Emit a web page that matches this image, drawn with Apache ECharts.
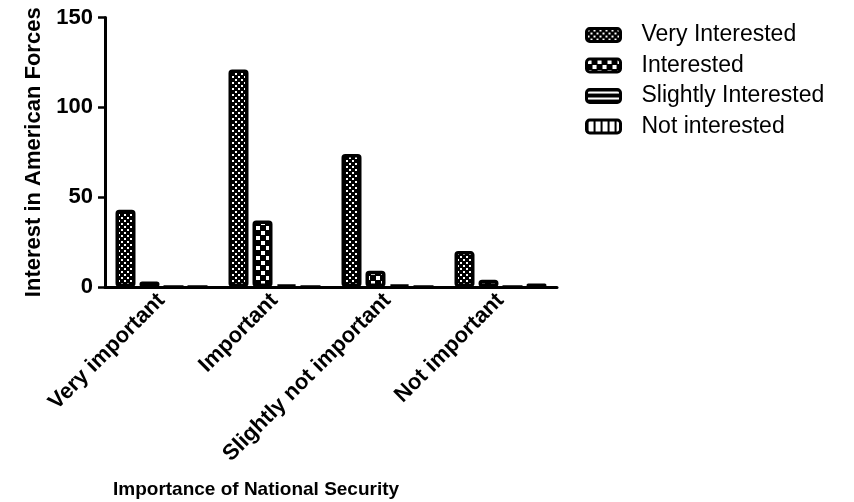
<!DOCTYPE html>
<html>
<head>
<meta charset="utf-8">
<script src="https://cdn.jsdelivr.net/npm/echarts@6/dist/echarts.min.js"></script>
<style>
  html, body { margin: 0; padding: 0; background: #fff; }
  #chart { width: 854px; height: 502px; }
</style>
</head>
<body>
<div id="chart"></div>
<script>
var categories = ['Very important', 'Important', 'Slightly not important', 'Not important'];
var seriesNames = ['Very Interested', 'Interested', 'Slightly Interested', 'Not interested'];
var veryInterested = [43, 121, 74, 20];
var interested = [3, 37, 9, 4];
var slightlyInterested = [0, 1, 1, 0];
var notInterested = [0, 0, 0, 2];
var yTicks = { min: 0, max: 150, interval: 50 };

// little canvas tiles used as hatch fills
function tile(w, h, draw) {
  var c = document.createElement('canvas');
  c.width = w; c.height = h;
  var ctx = c.getContext('2d');
  ctx.fillStyle = '#000';
  ctx.fillRect(0, 0, w, h);
  ctx.fillStyle = '#fff';
  draw(ctx);
  return { image: c, repeat: 'repeat' };
}
var fills = [
  tile(6, 6, function (ctx) { ctx.fillRect(1, 1, 2, 2); ctx.fillRect(4, 4, 2, 2); }),
  tile(10, 10, function (ctx) { ctx.fillRect(1, 1, 4, 4); ctx.fillRect(6, 6, 4, 4); }),
  tile(6, 6, function (ctx) { ctx.fillRect(0, 2, 6, 2); }),
  tile(7, 7, function (ctx) { ctx.fillRect(2, 0, 5, 7); })
];
var values = [veryInterested, interested, slightlyInterested, notInterested];

var font = "'Liberation Sans', Arial, sans-serif";
var chart = echarts.init(document.getElementById('chart'), null, { renderer: 'canvas' });

var series = seriesNames.map(function (name, i) {
  return {
    name: name,
    type: 'bar',
    data: values[i],
    barWidth: 20,
    barGap: '20%',
    itemStyle: {
      color: fills[i],
      borderColor: '#000',
      borderWidth: 3.5,
      borderRadius: 2
    },
    emphasis: { disabled: true }
  };
});

chart.setOption({
  backgroundColor: '#fff',
  animation: false,
  title: {
    text: 'Importance of National Security',
    left: 108,
    top: 475,
    textStyle: { fontFamily: font, fontSize: 19, fontWeight: 'bold', color: '#000' }
  },
  legend: {
    orient: 'vertical',
    left: 585,
    top: 21,
    padding: 0,
    icon: 'roundRect',
    itemWidth: 34,
    itemHeight: 13,
    itemGap: 2.5,
    itemStyle: { borderColor: '#000', borderWidth: 3 },
    textStyle: { fontFamily: font, fontSize: 23, color: '#000', lineHeight: 24, padding: [4, 0, 0, 16] },
    data: seriesNames
  },
  grid: { left: 105, right: 297, top: 17.5, bottom: 215, containLabel: false },
  xAxis: {
    type: 'category',
    data: categories,
    axisLine: { lineStyle: { color: '#000', width: 3 } },
    axisTick: { alignWithLabel: true, length: 7, lineStyle: { color: '#000', width: 2.5 } },
    axisLabel: {
      interval: 0,
      rotate: 45,
      margin: 10,
      fontFamily: font,
      fontSize: 22,
      fontWeight: 'bold',
      color: '#000'
    }
  },
  yAxis: {
    type: 'value',
    min: yTicks.min,
    max: yTicks.max,
    interval: yTicks.interval,
    name: 'Interest in American Forces',
    nameLocation: 'middle',
    nameGap: 60,
    nameTextStyle: { fontFamily: font, fontSize: 22, fontWeight: 'bold', color: '#000' },
    splitLine: { show: false },
    axisLine: { show: true, lineStyle: { color: '#000', width: 3 } },
    axisTick: { show: true, length: 7, lineStyle: { color: '#000', width: 2.5 } },
    axisLabel: { margin: 12, fontFamily: font, fontSize: 22, fontWeight: 'bold', color: '#000' }
  },
  series: series
});
</script>
</body>
</html>
